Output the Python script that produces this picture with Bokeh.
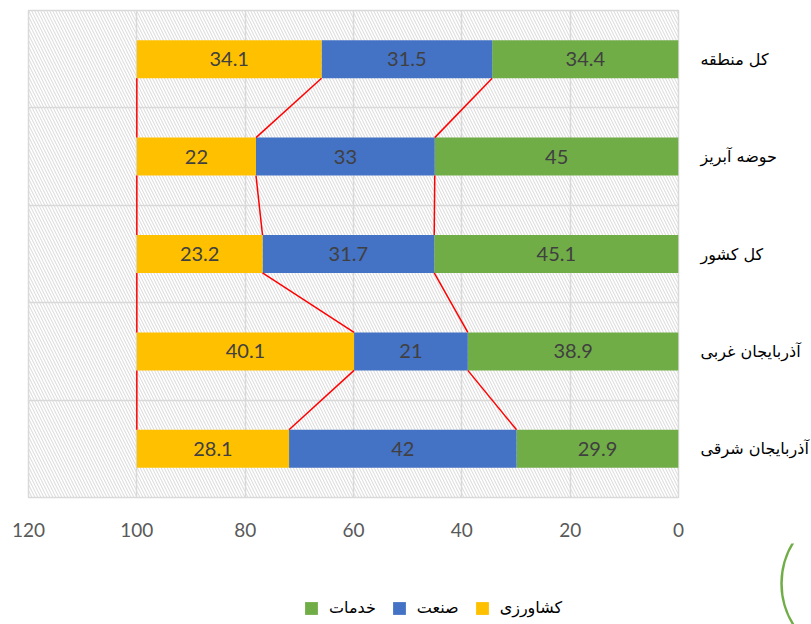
import numpy as np
from bokeh.plotting import figure
from bokeh.layouts import column, row
from bokeh.models import (ColumnDataSource, Range1d, FixedTicker, Legend, LegendItem)
from bokeh.core.properties import value
from bokeh.embed import file_html
from bokeh.resources import INLINE

# ---------------- data ----------------
categories = ["کل منطقه", "حوضه آبریز", "کل کشور", "آذربایجان غربی", "آذربایجان شرقی"]
services = [34.4, 45, 45.1, 38.9, 29.9]       # خدمات
industry = [31.5, 33, 31.7, 21, 42]           # صنعت
agriculture = [34.1, 22, 23.2, 40.1, 28.1]    # کشاورزی
series_names = ["خدمات", "صنعت", "کشاورزی"]
x_ticks = [0, 20, 40, 60, 80, 100, 120]

# ---------------- style ----------------
colors = ["#70AD47", "#4472C4", "#FFC000"]
grid_color = "#D9D9D9"
num_font = "Lato"
fa_font = "DejaVu Sans"

n = len(categories)
ypos = [i + 0.5 for i in range(n)]
bar_h = 0.39

s = np.array(services, dtype=float)
ind = np.array(industry, dtype=float)
ag = np.array(agriculture, dtype=float)
c0 = np.zeros(n)
c1 = s
c2 = s + ind
c3 = s + ind + ag

W = 811
H_MAIN = 543
H_LEG = 81

p = figure(width=W, height=H_MAIN,
           x_range=Range1d(120, 0), y_range=Range1d(n, 0),
           y_axis_location="right",
           output_backend="svg", toolbar_location=None,
           min_border_left=28, min_border_right=133,
           min_border_top=10, min_border_bottom=H_MAIN - 497)
p.background_fill_color = "white"
p.border_fill_color = "white"
p.outline_line_color = grid_color
p.outline_line_width = 1.5

# hatched plot-area background
p.quad(left=[120], right=[0], top=[0], bottom=[n], fill_color=None, line_color=None,
       hatch_pattern="left_diagonal_line", hatch_color="#DEDEDE", hatch_scale=6,
       hatch_weight=1.1, level="image")

# grids
p.xgrid.ticker = FixedTicker(ticks=x_ticks)
p.xgrid.grid_line_color = grid_color
p.xgrid.grid_line_width = 1.5
p.ygrid.ticker = FixedTicker(ticks=[i for i in range(1, n)])
p.ygrid.grid_line_color = grid_color
p.ygrid.grid_line_width = 1.5

# axes
p.xaxis.ticker = FixedTicker(ticks=x_ticks)
p.xaxis.axis_line_color = None
p.xaxis.major_tick_line_color = None
p.xaxis.minor_tick_line_color = None
p.xaxis.major_label_standoff = 19
p.xaxis.major_label_text_font = num_font
p.xaxis.major_label_text_font_size = "19px"
p.xaxis.major_label_text_color = "#595959"

p.yaxis.ticker = FixedTicker(ticks=ypos)
p.yaxis.major_label_overrides = {y: c for y, c in zip(ypos, categories)}
p.yaxis.axis_line_color = None
p.yaxis.major_tick_line_color = None
p.yaxis.minor_tick_line_color = None
p.yaxis.major_label_standoff = 16
p.yaxis.major_label_text_font = fa_font
p.yaxis.major_label_text_font_size = "16px"
p.yaxis.major_label_text_color = "#000000"

# stacked bars
src = ColumnDataSource(dict(y=ypos, c0=c0, c1=c1, c2=c2, c3=c3))
for (l, r), col in zip([("c0", "c1"), ("c1", "c2"), ("c2", "c3")], colors):
    p.hbar(y="y", left=l, right=r, height=bar_h, fill_color=col,
           line_color=None, source=src)

# data labels
lab_x, lab_y, lab_t = [], [], []
for vals, lo in [(s, c0), (ind, c1), (ag, c2)]:
    for i in range(n):
        lab_x.append(lo[i] + vals[i] / 2)
        lab_y.append(ypos[i])
        lab_t.append(f"{vals[i]:g}")
p.text(x=lab_x, y=lab_y, text=lab_t, text_align="center", text_baseline="middle",
       text_font=value(num_font), text_font_size="20px", text_color="#404040")

# series lines
x0s, y0s, x1s, y1s = [], [], [], []
for cum in (c1, c2, c3):
    for i in range(n - 1):
        x0s.append(cum[i]); y0s.append(ypos[i] + bar_h / 2)
        x1s.append(cum[i + 1]); y1s.append(ypos[i + 1] - bar_h / 2)
p.segment(x0=x0s, y0=y0s, x1=x1s, y1=y1s, line_color="#FF0000", line_width=1.5)

# ---------------- legend strip (pixel coordinates of the page) ----------------
p2 = figure(width=W, height=H_LEG,
            x_range=Range1d(0, W), y_range=Range1d(H_MAIN + H_LEG, H_MAIN),
            x_axis_type=None, y_axis_type=None,
            output_backend="svg", toolbar_location=None,
            min_border=0, min_border_left=0, min_border_right=0,
            min_border_top=0, min_border_bottom=0)
p2.outline_line_color = None
p2.background_fill_color = "white"
p2.border_fill_color = "white"

# legend proxies (kept outside the visible strip)
proxies = [p2.rect(x=[-100], y=[-100], width=1, height=1, fill_color=col, line_color=None)
           for col in colors]
legend = Legend(items=[LegendItem(label=nm, renderers=[r]) for nm, r in zip(series_names, proxies)],
                orientation="horizontal", location=(303, 7),
                padding=0, margin=0, spacing=15, label_standoff=10,
                glyph_width=16, glyph_height=16,
                label_text_font=fa_font, label_text_font_size="16px",
                label_text_color="#000000",
                background_fill_alpha=0, border_line_color=None)
p2.add_layout(legend)

# decorative green ring at the bottom-right corner
p2.circle(x=[858], y=[583], radius=77, fill_color=None, line_color="#70AD47", line_width=2.5)

open("out.html", "w").write(file_html(column(p, row(p2), spacing=0), INLINE))
